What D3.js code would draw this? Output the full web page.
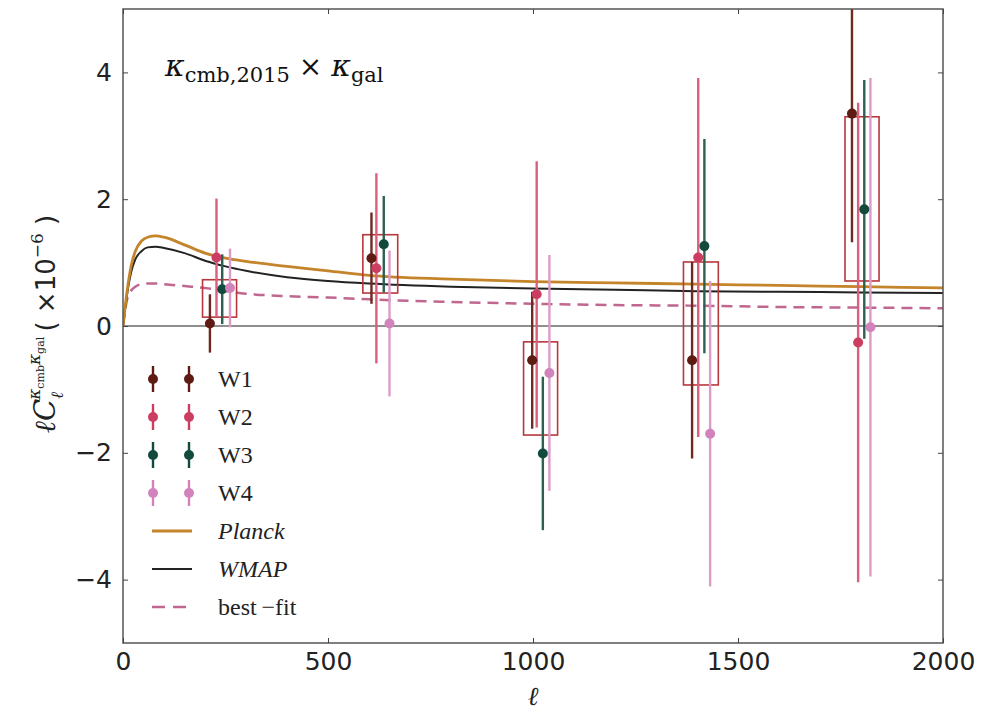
<!DOCTYPE html>
<html><head><meta charset="utf-8">
<script src="https://cdn.jsdelivr.net/npm/d3@7"></script>
<style>body{margin:0;background:#fff}svg{display:block}</style>
</head><body>
<svg id="chart" width="997" height="712"></svg>
<script>
// ---------- data ----------
const xTicks = [0, 500, 1000, 1500, 2000];
const yTicks = [-4, -2, 0, 2, 4];

const seriesNames = ["W1", "W2", "W3", "W4"];
const ellW1 = [212, 606, 998, 1388, 1778];
const valW1 = [0.04, 1.07, -0.54, -0.54, 3.35];
const errW1 = [0.46, 0.72, 1.08, 1.55, 2.03];
const ellW2 = [228, 618, 1009, 1403, 1793];
const valW2 = [1.08, 0.91, 0.50, 1.08, -0.26];
const errW2 = [0.93, 1.50, 2.10, 2.83, 3.78];
const ellW3 = [242, 636, 1024, 1418, 1808];
const valW3 = [0.58, 1.29, -2.01, 1.26, 1.84];
const errW3 = [0.55, 0.76, 1.21, 1.69, 2.04];
const ellW4 = [261, 650, 1040, 1432, 1823];
const valW4 = [0.60, 0.04, -0.74, -1.70, -0.02];
const errW4 = [0.62, 1.15, 1.86, 2.41, 3.93];

const boxLo = [194, 585, 977, 1367, 1761];
const boxHi = [277, 670, 1060, 1452, 1844];
const boxBottom = [0.14, 0.52, -1.72, -0.93, 0.71];
const boxTop = [0.73, 1.44, -0.25, 1.01, 3.30];

const curveEll = [0, 10, 20, 30, 45, 60, 80, 100, 150, 200, 250, 300, 400, 500, 600, 800, 1000, 1200, 1400, 1600, 1800, 2000];
const planck  = [0, 0.55, 0.95, 1.18, 1.34, 1.40, 1.42, 1.40, 1.28, 1.15, 1.07, 1.02, 0.94, 0.87, 0.80, 0.74, 0.70, 0.68, 0.66, 0.64, 0.62, 0.60];
const wmap    = [0, 0.50, 0.85, 1.05, 1.18, 1.24, 1.25, 1.23, 1.15, 1.03, 0.94, 0.87, 0.77, 0.71, 0.67, 0.62, 0.59, 0.57, 0.55, 0.54, 0.53, 0.52];
const bestFit = [0, 0.42, 0.56, 0.62, 0.66, 0.67, 0.67, 0.66, 0.63, 0.60, 0.55, 0.51, 0.47, 0.45, 0.42, 0.38, 0.35, 0.33, 0.32, 0.30, 0.29, 0.28];

// ---------- styles ----------
const colors = {W1: "#5e1b14", W2: "#cc3d62", W3: "#124a3e", W4: "#d383bb"};
const barColors = {W1: "#6e2a20", W2: "#d9607e", W3: "#2f5e52", W4: "#dc9cc8"};

const svg = d3.select("#chart");
const L = 123, R = 943, T = 9, B = 643;
const x = d3.scaleLinear().domain([0, 2000]).range([L, R]);
const y = d3.scaleLinear().domain([-5, 5]).range([B, T]);

svg.append("clipPath").attr("id", "clip").append("rect")
  .attr("x", L).attr("y", T).attr("width", R - L).attr("height", B - T);
const plot = svg.append("g").attr("clip-path", "url(#clip)");

// zero line
plot.append("line").attr("x1", L).attr("x2", R).attr("y1", y(0)).attr("y2", y(0))
  .attr("stroke", "#6a6a6a").attr("stroke-width", 1.5);

// curves
const line = d3.line().x(d => x(d[0])).y(d => y(d[1])).curve(d3.curveMonotoneX);
plot.append("path").datum(curveEll.map((e, i) => [e, bestFit[i]]))
  .attr("d", line).attr("fill", "none").attr("stroke", "#c0668f")
  .attr("stroke-width", 2.5).attr("stroke-dasharray", "11,7");
plot.append("path").datum(curveEll.map((e, i) => [e, wmap[i]]))
  .attr("d", line).attr("fill", "none").attr("stroke", "#222").attr("stroke-width", 2);
plot.append("path").datum(curveEll.map((e, i) => [e, planck[i]]))
  .attr("d", line).attr("fill", "none").attr("stroke", "#c4842a").attr("stroke-width", 2.8);

// boxes
boxLo.forEach((lo, i) => {
  plot.append("rect").attr("x", x(lo)).attr("y", y(boxTop[i]))
    .attr("width", x(boxHi[i]) - x(lo)).attr("height", y(boxBottom[i]) - y(boxTop[i]))
    .attr("fill", "none").attr("stroke", "#b8373c").attr("stroke-width", 1.6);
});

// error bars & points
const allSeries = [
  {name: "W1", ell: ellW1, val: valW1, err: errW1},
  {name: "W2", ell: ellW2, val: valW2, err: errW2},
  {name: "W3", ell: ellW3, val: valW3, err: errW3},
  {name: "W4", ell: ellW4, val: valW4, err: errW4}
];
allSeries.forEach(s => {
  s.ell.forEach((e, i) => {
    plot.append("line").attr("x1", x(e)).attr("x2", x(e))
      .attr("y1", y(s.val[i] - s.err[i])).attr("y2", y(s.val[i] + s.err[i]))
      .attr("stroke", barColors[s.name]).attr("stroke-width", 2.4);
  });
});
allSeries.forEach(s => {
  s.ell.forEach((e, i) => {
    plot.append("circle").attr("cx", x(e)).attr("cy", y(s.val[i])).attr("r", 5)
      .attr("fill", colors[s.name]);
  });
});

// frame
svg.append("rect").attr("x", L).attr("y", T).attr("width", R - L).attr("height", B - T)
  .attr("fill", "none").attr("stroke", "#555").attr("stroke-width", 1.5);

// axes (ticks inside)
const tickFont = "DejaVu Sans, sans-serif";
const xAxis = svg.append("g").attr("transform", `translate(0,${B})`)
  .call(d3.axisBottom(x).tickValues(xTicks).tickSize(-5).tickPadding(9).tickFormat(d3.format("d")));
const xAxisTop = svg.append("g").attr("transform", `translate(0,${T})`)
  .call(d3.axisTop(x).tickValues(xTicks).tickSize(-5).tickFormat(""));
const yAxis = svg.append("g").attr("transform", `translate(${L},0)`)
  .call(d3.axisLeft(y).tickValues(yTicks).tickSize(-5).tickPadding(11)
    .tickFormat(d => d < 0 ? "\u2212" + Math.abs(d) : String(d)));
const yAxisR = svg.append("g").attr("transform", `translate(${R},0)`)
  .call(d3.axisRight(y).tickValues(yTicks).tickSize(-5).tickFormat(""));
[xAxis, xAxisTop, yAxis, yAxisR].forEach(g => {
  g.select(".domain").remove();
  g.selectAll(".tick line").attr("stroke", "#444").attr("stroke-width", 1);
  g.selectAll(".tick text").attr("font-family", tickFont).attr("font-size", 25).attr("fill", "#222");
});

// x label
svg.append("text").attr("x", (L + R) / 2).attr("y", 705).attr("text-anchor", "middle")
  .attr("font-family", "DejaVu Serif, serif").attr("font-style", "italic").attr("font-size", 26)
  .attr("fill", "#222").text("\u2113");

// y label
const yl = svg.append("text").attr("transform", "translate(55,324) rotate(-90)")
  .attr("text-anchor", "middle").attr("font-family", "DejaVu Serif, serif").attr("fill", "#222");
yl.append("tspan").attr("font-size", 29).attr("font-style", "italic").text("\u2113C");
yl.append("tspan").attr("font-size", 17).attr("font-style", "italic").attr("dy", 8).text("\u2113");
yl.append("tspan").attr("font-size", 17).attr("font-style", "italic").attr("dx", -8).attr("dy", -23).text("\u03ba");
yl.append("tspan").attr("font-size", 11).attr("dy", 4).text("cmb");
yl.append("tspan").attr("font-size", 17).attr("font-style", "italic").attr("dy", -4).text("\u03ba");
yl.append("tspan").attr("font-size", 11).attr("dy", 4).text("gal");
yl.append("tspan").attr("font-size", 26).attr("font-family", "DejaVu Sans, sans-serif").attr("dy", 11).text("\u2009( \u00d710");
yl.append("tspan").attr("font-size", 17).attr("dy", -12).text("\u22126");
yl.append("tspan").attr("font-size", 26).attr("font-family", "DejaVu Sans, sans-serif").attr("dy", 12).text(" )");

// title annotation
const tt = svg.append("text").attr("x", 165).attr("y", 76).attr("font-family", "DejaVu Serif, serif").attr("fill", "#111");
tt.append("tspan").attr("font-size", 30).attr("font-style", "italic").text("\u03ba");
tt.append("tspan").attr("font-size", 21).attr("dy", 6).text("cmb,2015");
tt.append("tspan").attr("font-size", 28).attr("dy", -6).text(" \u00d7 ");
tt.append("tspan").attr("font-size", 30).attr("font-style", "italic").text("\u03ba");
tt.append("tspan").attr("font-size", 21).attr("dy", 6).text("gal");

// legend
const legFont = "Liberation Serif, serif";
const legRows = [379, 417, 455, 493, 531, 569, 607];
seriesNames.forEach((n, i) => {
  const yy = legRows[i];
  [153, 189].forEach(xx => {
    svg.append("line").attr("x1", xx).attr("x2", xx).attr("y1", yy - 13).attr("y2", yy + 13)
      .attr("stroke", colors[n]).attr("stroke-width", 2.4);
    svg.append("circle").attr("cx", xx).attr("cy", yy).attr("r", 5).attr("fill", colors[n]);
  });
  svg.append("text").attr("x", 218).attr("y", yy + 8).attr("font-family", legFont)
    .attr("font-size", 24).attr("fill", "#222").text(n);
});
const lineLeg = [
  {label: "Planck", color: "#c4842a", dash: null, italic: true, w: 2.8},
  {label: "WMAP", color: "#222", dash: null, italic: true, w: 2},
  {label: "best\u2009\u2212fit", color: "#c0668f", dash: "13,8", italic: false, w: 2.5}
];
lineLeg.forEach((d, i) => {
  const yy = legRows[4 + i];
  const l = svg.append("line").attr("x1", 152).attr("x2", 192).attr("y1", yy).attr("y2", yy)
    .attr("stroke", d.color).attr("stroke-width", d.w);
  if (d.dash) l.attr("stroke-dasharray", d.dash);
  svg.append("text").attr("x", 218).attr("y", yy + 8).attr("font-family", legFont)
    .attr("font-size", 24).attr("font-style", d.italic ? "italic" : "normal").attr("fill", "#222").text(d.label);
});
</script>
</body></html>
